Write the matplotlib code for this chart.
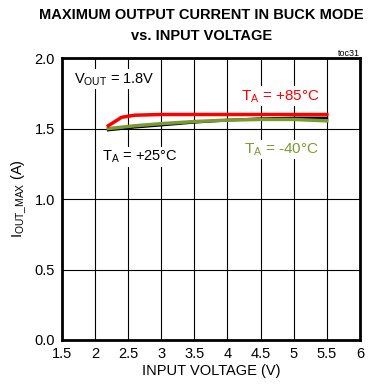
import matplotlib.pyplot as plt

plt.rcParams['font.family'] = ['Liberation Sans', 'DejaVu Sans']

# data
vin = [2.2, 2.4, 2.6, 3.0, 3.5, 4.0, 4.5, 5.0, 5.5]
i_85 = [1.52, 1.58, 1.595, 1.6, 1.6, 1.6, 1.6, 1.6, 1.6]
i_25 = [1.49, 1.50, 1.51, 1.525, 1.545, 1.56, 1.57, 1.575, 1.575]
i_m40 = [1.50, 1.51, 1.52, 1.535, 1.55, 1.56, 1.565, 1.565, 1.555]

xticks = [1.5, 2, 2.5, 3, 3.5, 4, 4.5, 5, 5.5, 6]
yticks = [0.0, 0.5, 1.0, 1.5, 2.0]

fig = plt.figure(figsize=(3.73, 3.85), dpi=100)
ax = fig.add_axes([0.166, 0.117, 0.799, 0.732])

ax.plot(vin, i_25, color='black', lw=2, zorder=3)
ax.plot(vin, i_m40, color='#7a9a32', lw=2.5, zorder=4)
ax.plot(vin, i_85, color='#ff0000', lw=2.5, zorder=5)

ax.set_xlim(1.5, 6)
ax.set_ylim(0, 2)
ax.set_xticks(xticks)
ax.set_xticklabels(['1.5', '2', '2.5', '3', '3.5', '4', '4.5', '5', '5.5', '6'])
ax.set_yticks(yticks)
ax.set_yticklabels(['0.0', '0.5', '1.0', '1.5', '2.0'])
ax.grid(True, color='black', lw=0.8)
ax.tick_params(length=0, labelsize=10.5, pad=5)
for s in ax.spines.values():
    s.set_linewidth(2)

ax.set_xlabel('INPUT VOLTAGE (V)', fontsize=10.5, labelpad=2)
ax.set_ylabel('I$_{\\mathregular{OUT\\_MAX}}$ (A)', fontsize=10.5, labelpad=4)

box = dict(facecolor='white', edgecolor='none', pad=1)
ax.text(1.68, 1.85, 'V$_{\\mathregular{OUT}}$ = 1.8V', fontsize=10.5, va='center', bbox=box)
ax.text(4.2, 1.73, 'T$_{\\mathregular{A}}$ = +85°C', fontsize=11, color='#ff0000', va='center', bbox=box)
ax.text(2.1, 1.30, 'T$_{\\mathregular{A}}$ = +25°C', fontsize=10.5, color='black', va='center', bbox=box)
ax.text(4.25, 1.35, 'T$_{\\mathregular{A}}$ = -40°C', fontsize=11, color='#7a9a32', va='center', bbox=box)

fig.text(0.54, 0.961, 'MAXIMUM OUTPUT CURRENT IN BUCK MODE', ha='center', va='center',
         fontsize=10.5, fontweight='bold')
fig.text(0.54, 0.906, 'vs. INPUT VOLTAGE', ha='center', va='center',
         fontsize=10.5, fontweight='bold')
fig.text(0.965, 0.862, 'toc31', ha='right', va='center', fontsize=6.5)

fig.savefig('out.png', dpi=100)
